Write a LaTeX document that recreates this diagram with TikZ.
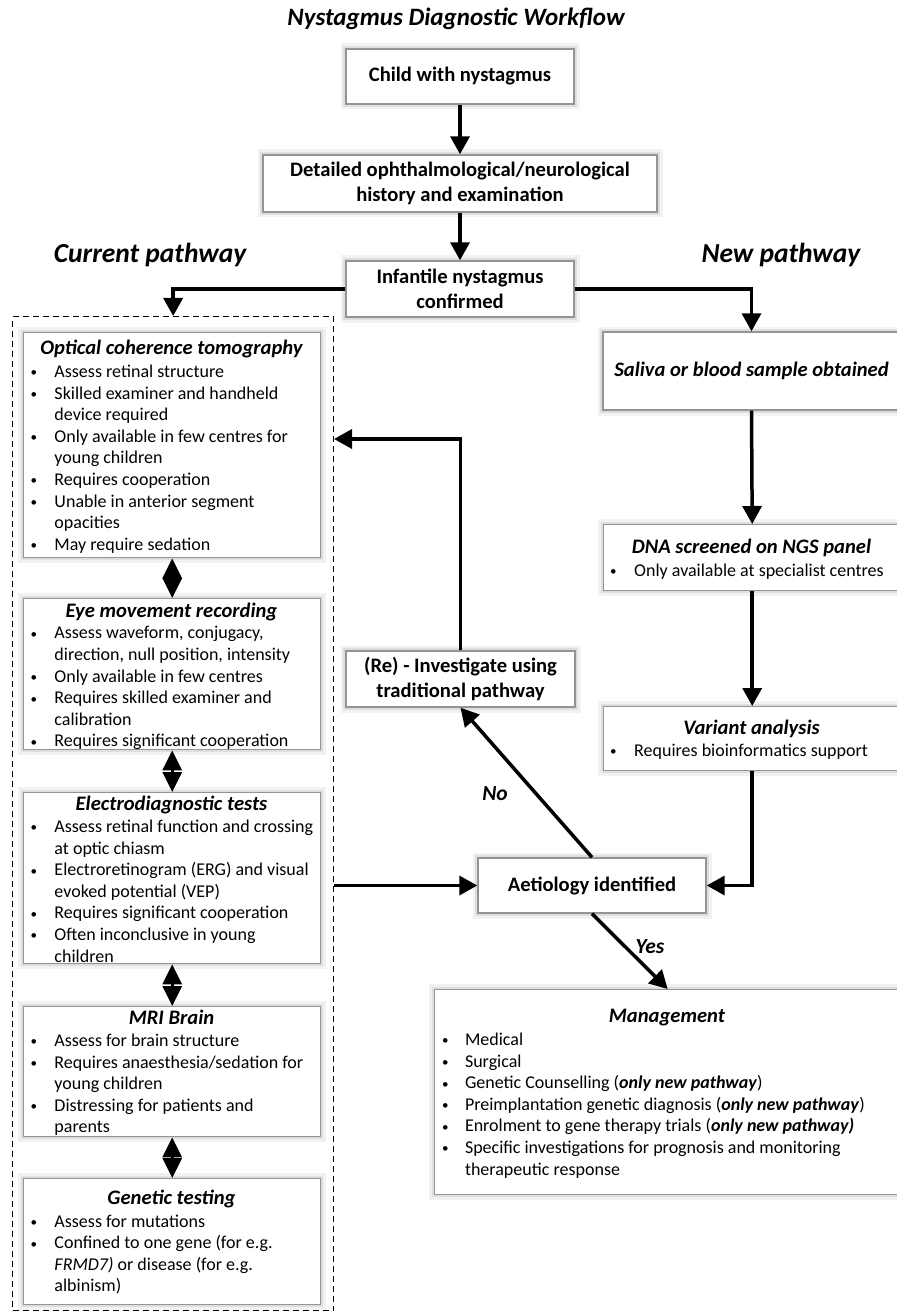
\documentclass[tikz,border=0pt]{standalone}
\usepackage{fontspec}
\setmainfont{Carlito}
\usetikzlibrary{arrows.meta}
\newcommand{\bulsym}{\raisebox{0.6pt}{\fontsize{13}{13}\selectfont\textbullet}}
\newcommand{\li}[2][24pt]{\hbox{\makebox[#1][l]{\bulsym}#2}}
\newcommand{\lc}[2][24pt]{\hbox{\hspace*{#1}#2}}
\newcommand{\bi}[1]{\textbf{\textit{#1}}}
\tikzset{
  box/.style={draw=black!42, line width=1.4pt, fill=white, inner sep=0pt,
    preaction={draw=black!5, line width=11pt},
    preaction={draw=black!13, line width=5.5pt}},
  curbox/.style={draw=black, line width=1.3pt, dash pattern=on 6pt off 4pt, inner sep=0pt},
  conn/.style={line width=3.5pt, -{Triangle[length=18pt,width=19pt]}},
  dbl/.style={line width=3pt, {Triangle[length=20pt,width=19pt]}-{Triangle[length=20pt,width=19pt]}},
  boldtxt/.style={font=\fontsize{20.6}{24.4}\selectfont\bfseries, align=center},
  bitxt/.style={font=\fontsize{20.6}{24.4}\selectfont\bfseries\itshape, align=center},
  ttl/.style={font=\fontsize{20.6}{24}\selectfont\bfseries\itshape, inner sep=0pt, anchor=base},
  body/.style={font=\fontsize{18}{21.6}\selectfont, inner sep=0pt, anchor=base west},
  big/.style={font=\fontsize{27.5}{32}\selectfont\bfseries\itshape, inner sep=0pt, anchor=base},
  lbl/.style={font=\fontsize{21.5}{25}\selectfont\bfseries\itshape, inner sep=0pt, anchor=base},
}
\begin{document}
\begin{tikzpicture}[x=1pt,y=-1pt]
\useasboundingbox (0,0) rectangle (896,1313);
\fill[white] (0,0) rectangle (896,1313);

% title and pathway labels
\node[font=\fontsize{25}{30}\selectfont\bfseries\itshape, inner sep=0pt, anchor=base] (title) at (456,26) {Nystagmus Diagnostic Workflow};
\node[big] (curlbl) at (150,263) {Current pathway};
\node[big] (newlbl) at (781,263) {New pathway};

% top boxes
\node[box, boldtxt, minimum width=228pt, minimum height=55pt] (child) at (460,76.5) {Child with nystagmus};
\node[box, boldtxt, minimum width=394pt, minimum height=57pt] (detail) at (460,183.5) {Detailed ophthalmological/neurological\\history and examination};
\node[box, boldtxt, minimum width=228pt, minimum height=56pt] (infant) at (460,289) {Infantile nystagmus\\confirmed};

% current pathway container
\node[curbox, anchor=north west, minimum width=321pt, minimum height=994pt] (cur) at (12,316) {};

% left column boxes
\node[box, anchor=north west, minimum width=297pt, minimum height=225pt] (oct) at (23,332) {};
\node[ttl] (octt) at (171.5,354) {Optical coherence tomography};
\node[body] (octb) at (30.3,377.5) {\vtop{\li{Assess retinal structure}
\li{Skilled examiner and handheld}\lc{device required}
\li{Only available in few centres for}\lc{young children}
\li{Requires cooperation}
\li{Unable in anterior segment}\lc{opacities}
\li{May require sedation}}};

\node[box, anchor=north west, minimum width=297pt, minimum height=151pt] (emr) at (23,598) {};
\node[ttl] (emrt) at (171.5,617) {Eye movement recording};
\node[body] (emrb) at (30.3,638.8) {\vtop{\li{Assess waveform, conjugacy,}\lc{direction, null position, intensity}
\li{Only available in few centres}
\li{Requires skilled examiner and}\lc{calibration}
\li{Requires significant cooperation}}};

\node[box, anchor=north west, minimum width=297pt, minimum height=171pt] (edt) at (23,792) {};
\node[ttl] (edtt) at (171.5,810) {Electrodiagnostic tests};
\node[body] (edtb) at (30.3,832.5) {\vtop{\li{Assess retinal function and crossing}\lc{at optic chiasm}
\li{Electroretinogram (ERG) and visual}\lc{evoked potential (VEP)}
\li{Requires significant cooperation}
\li{Often inconclusive in young}\lc{children}}};

\node[box, anchor=north west, minimum width=297pt, minimum height=130pt] (mri) at (23,1006) {};
\node[ttl] (mrit) at (171.5,1024) {MRI Brain};
\node[body] (mrib) at (30.3,1046.5) {\vtop{\li{Assess for brain structure}
\li{Requires anaesthesia/sedation for}\lc{young children}
\li{Distressing for patients and}\lc{parents}}};

\node[box, anchor=north west, minimum width=297pt, minimum height=126pt] (gen) at (23,1178) {};
\node[ttl] (gent) at (171.5,1204) {Genetic testing};
\node[body] (genb) at (30.3,1227) {\vtop{\li{Assess for mutations}
\li{Confined to one gene (for e.g.}\lc{\textit{FRMD7)} or disease (for e.g.}\lc{albinism)}}};

% right column
\node[box, bitxt, minimum width=297pt, minimum height=78pt] (saliva) at (751.5,371) {Saliva or blood sample obtained};

\node[box, anchor=north west, minimum width=297pt, minimum height=66pt] (dna) at (603,524) {};
\node[ttl] (dnat) at (751.5,553) {DNA screened on NGS panel};
\node[body] (dnab) at (610,576.5) {\vtop{\li{Only available at specialist centres}}};

\node[box, anchor=north west, minimum width=297pt, minimum height=64pt] (var) at (603,706) {};
\node[ttl] (vart) at (751.5,734) {Variant analysis};
\node[body] (varb) at (610,756.5) {\vtop{\li{Requires bioinformatics support}}};

\node[box, boldtxt, minimum width=228pt, minimum height=55pt] (aet) at (592,885.5) {Aetiology identified};
\node[box, boldtxt, minimum width=229pt, minimum height=56pt] (re) at (460.5,679) {(Re) - Investigate using\\traditional pathway};

\node[box, anchor=north west, minimum width=466pt, minimum height=205pt] (mgmt) at (434,989) {};
\node[ttl] (mgmtt) at (667,1022.5) {Management};
\node[body] (mgmtb) at (441.8,1045.5) {\vtop{\li[23pt]{Medical}
\li[23pt]{Surgical}
\li[23pt]{Genetic Counselling (\bi{only new pathway})}
\li[23pt]{Preimplantation genetic diagnosis (\bi{only new pathway})}
\li[23pt]{Enrolment to gene therapy trials (\bi{only new pathway)}}
\li[23pt]{Specific investigations for prognosis and monitoring}\lc[23pt]{therapeutic response}}};

% labels
\node[lbl] (nolbl) at (495,800) {No};
\node[lbl] (yeslbl) at (650,953) {Yes};

% connectors
\coordinate (loopback) at (334,439);
\draw[conn] (child.south) -- (detail.north);
\draw[conn] (detail.south) -- (infant.north);
\draw[conn] (infant.west) -| (cur.north);
\draw[conn] (infant.east) -| (saliva.north);
\draw[conn] (saliva.south) -- (dna.north);
\draw[conn] (dna.south) -- (var.north);
\draw[conn] (var.south) |- (aet.east);
\draw[conn] (aet.west -| cur.east) -- (aet.west);
\draw[conn] (aet.north) -- (re.south);
\draw[conn] (re.north) |- (loopback);
\draw[conn] (aet.south) -- (mgmt.north);
\draw[dbl] (oct.south) -- (emr.north);
\draw[dbl] (emr.south) -- (edt.north);
\draw[dbl] (edt.south) -- (mri.north);
\draw[dbl] (mri.south) -- (gen.north);
\end{tikzpicture}
\end{document}
